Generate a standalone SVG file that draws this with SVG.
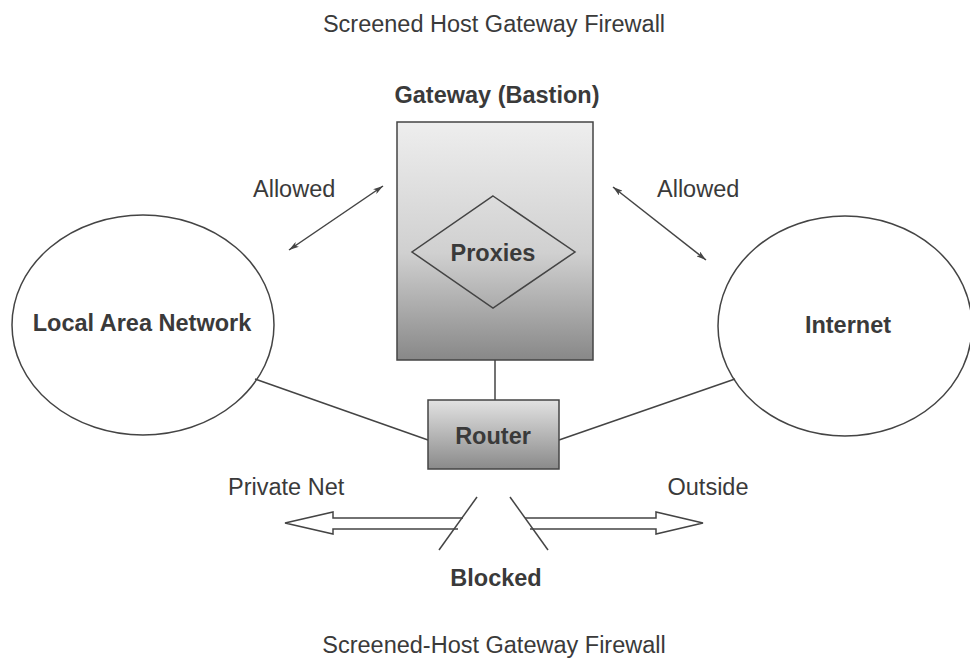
<svg xmlns="http://www.w3.org/2000/svg" width="970" height="662" viewBox="0 0 970 662">
<style>
text{font-family:"Liberation Sans",Arial,sans-serif;fill:#3a3a3a;font-size:23.5px}
.b{font-weight:bold}
.ln{stroke:#444;stroke-width:1.5;fill:none}
.sh{stroke:#444;stroke-width:1.5}
</style>
<defs>
<linearGradient id="gGate" x1="0" y1="0" x2="0" y2="1">
<stop offset="0" stop-color="#eeeeee"/>
<stop offset="0.55" stop-color="#d0d0d0"/>
<stop offset="1" stop-color="#888888"/>
</linearGradient>
<linearGradient id="gRouter" x1="0" y1="0" x2="0" y2="1">
<stop offset="0" stop-color="#e2e2e2"/>
<stop offset="1" stop-color="#8a8a8a"/>
</linearGradient>
<marker id="ah" viewBox="0 0 10 6" refX="10" refY="3" markerWidth="10" markerHeight="6" markerUnits="userSpaceOnUse" orient="auto-start-reverse">
<path d="M0,0 L10,3 L0,6 L2.5,3 Z" fill="#444"/>
</marker>
</defs>
<rect width="970" height="662" fill="#fff"/>
<text x="494" y="32" text-anchor="middle">Screened Host Gateway Firewall</text>
<text x="494" y="653" text-anchor="middle">Screened-Host Gateway Firewall</text>
<g id="connectors">
<line class="ln" x1="495" y1="360" x2="495" y2="400"/>
<line class="ln" x1="255" y1="379" x2="428" y2="440"/>
<line class="ln" x1="559" y1="440" x2="735" y2="379"/>
<line class="ln" x1="289" y1="250" x2="383" y2="186" marker-start="url(#ah)" marker-end="url(#ah)"/>
<line class="ln" x1="613" y1="187" x2="706" y2="260" marker-start="url(#ah)" marker-end="url(#ah)"/>
<text x="253" y="197">Allowed</text>
<text x="657" y="197">Allowed</text>
</g>
<g id="lan">
<ellipse class="ln" cx="143" cy="325" rx="131" ry="110"/>
<text class="b" x="142" y="331" text-anchor="middle">Local Area Network</text>
</g>
<g id="internet">
<ellipse class="ln" cx="845" cy="326" rx="127" ry="110"/>
<text class="b" x="848" y="333" text-anchor="middle">Internet</text>
</g>
<g id="gateway">
<text class="b" x="497" y="103" text-anchor="middle">Gateway (Bastion)</text>
<rect class="sh" x="397" y="122" width="196" height="238" fill="url(#gGate)"/>
<polygon class="ln" points="493,196 575,252 493,308 412,252"/>
<text class="b" x="493" y="261" text-anchor="middle">Proxies</text>
</g>
<g id="router">
<rect class="sh" x="428" y="400" width="131" height="69" fill="url(#gRouter)"/>
<text class="b" x="493" y="444" text-anchor="middle">Router</text>
</g>
<g id="blocked">
<text x="228" y="495">Private Net</text>
<text x="708" y="495" text-anchor="middle">Outside</text>
<path class="ln" d="M463,518 L333,518 L333,512 L285,523 L333,534 L333,529 L458,529"/>
<path class="ln" d="M525,518 L656,518 L656,512 L703,523 L656,534 L656,529 L530,529"/>
<line class="ln" x1="477" y1="497" x2="439" y2="550"/>
<line class="ln" x1="510" y1="497" x2="548" y2="550"/>
<text class="b" x="496" y="586" text-anchor="middle">Blocked</text>
</g>
</svg>
